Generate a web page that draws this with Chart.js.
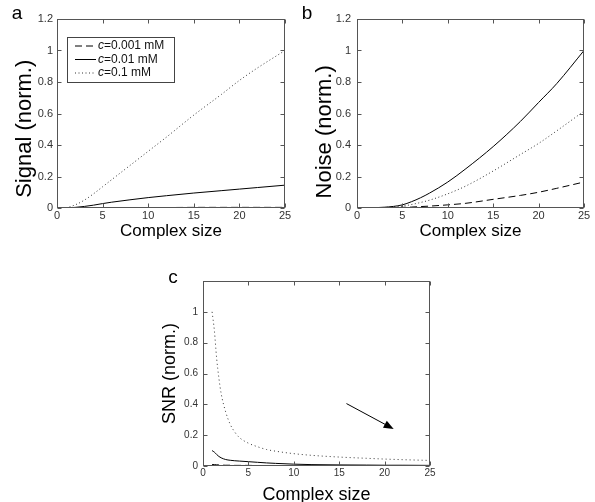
<!DOCTYPE html>
<html>
<head>
<meta charset="utf-8">
<script src="https://cdn.jsdelivr.net/npm/chart.js@4/dist/chart.umd.min.js"></script>
<style>
  body { margin: 0; width: 595px; height: 502px; overflow: hidden; background: #fff; position: relative; }
  canvas { position: absolute; }
</style>
</head>
<body>
<canvas id="chartA" width="295" height="250" style="left:0;top:0"></canvas>
<canvas id="chartB" width="300" height="250" style="left:295px;top:0"></canvas>
<canvas id="chartC" width="320" height="262" style="left:140px;top:250px"></canvas>
<script>
// legend labels (concentration c)
const concLabels = ['=0.001 mM', '=0.01 mM', '=0.1 mM'];
const xTicks = [0, 5, 10, 15, 20, 25];

// panel a: signal
const xA = [1, 2, 3, 4, 5, 6, 8, 10, 12, 15, 18, 20, 22, 25];
const signalLow = [0, 0.001, 0.001, 0.002, 0.002, 0.002, 0.003, 0.003, 0.003, 0.004, 0.004, 0.004, 0.004, 0.004];
const signalMid = [0, 0.004, 0.01, 0.018, 0.028, 0.037, 0.052, 0.066, 0.078, 0.095, 0.11, 0.12, 0.13, 0.145];
const signalHigh = [0, 0.02, 0.05, 0.09, 0.135, 0.18, 0.27, 0.36, 0.45, 0.59, 0.72, 0.81, 0.89, 1.0];

// panel b: noise
const xB = [1, 2, 3, 4, 5, 6, 7, 8, 10, 12, 15, 18, 20, 22, 25];
const noiseLow = [0, 0, 0.001, 0.002, 0.004, 0.006, 0.009, 0.012, 0.02, 0.03, 0.055, 0.08, 0.1, 0.125, 0.165];
const noiseMid = [0, 0.002, 0.005, 0.01, 0.02, 0.04, 0.065, 0.095, 0.165, 0.25, 0.39, 0.55, 0.67, 0.79, 1.0];
const noiseHigh = [0, 0.001, 0.003, 0.006, 0.012, 0.022, 0.035, 0.05, 0.09, 0.14, 0.235, 0.34, 0.41, 0.49, 0.615];

// panel c: SNR
const xC = [1, 1.25, 1.5, 1.75, 2, 2.5, 3, 3.5, 4, 5, 6, 7, 8, 10, 12, 15, 18, 20, 22, 25];
const snrLow = [0.01, 0.009, 0.008, 0.007, 0.006, 0.005, 0.005, 0.004, 0.004, 0.004, 0.003, 0.003, 0.003, 0.003, 0.002, 0.002, 0.002, 0.002, 0.002, 0.002];
const snrMid = [0.1, 0.09, 0.075, 0.062, 0.053, 0.042, 0.037, 0.034, 0.032, 0.028, 0.024, 0.02, 0.017, 0.012, 0.009, 0.007, 0.006, 0.005, 0.005, 0.004];
const snrHigh = [1.0, 0.88, 0.7, 0.57, 0.47, 0.35, 0.27, 0.22, 0.185, 0.148, 0.125, 0.107, 0.096, 0.08, 0.069, 0.058, 0.05, 0.045, 0.041, 0.036];

// arrow in panel c, data coords [start, end]
const snrArrow = [[15.8, 0.405], [21.0, 0.24]];

const FONT = '"Liberation Sans", Arial, sans-serif';
const DASHED = [7, 4];
const DOTTED = [1, 2.5];

function pts(xs, ys) {
  return xs.map((v, i) => ({ x: v, y: ys[i] }));
}

function line(ctx, x1, y1, x2, y2) {
  ctx.beginPath(); ctx.moveTo(x1, y1); ctx.lineTo(x2, y2); ctx.stroke();
}

// matlab style box with inward ticks, panel letter, legend, arrow
const framePlugin = {
  id: 'frame',
  afterDraw(chart, args, opts) {
    const { ctx, chartArea: a, scales: { x, y } } = chart;
    const L = Math.round(a.left) + 0.5, R = Math.round(a.right) - 0.5;
    const T = Math.round(a.top) + 0.5, B = Math.round(a.bottom) - 0.5;
    ctx.save();
    ctx.strokeStyle = '#555';
    ctx.lineWidth = 1;
    ctx.strokeRect(L, T, R - L, B - T);
    x.ticks.forEach(t => {
      const px = Math.round(x.getPixelForValue(t.value)) + 0.5;
      line(ctx, px, T, px, T + 4);
      line(ctx, px, B, px, B - 4);
    });
    y.ticks.forEach(t => {
      const py = Math.round(y.getPixelForValue(t.value)) + 0.5;
      line(ctx, L, py, L + 4, py);
      line(ctx, R, py, R - 4, py);
    });

    ctx.fillStyle = '#000';
    ctx.font = '19px ' + FONT;
    ctx.textAlign = 'center';
    ctx.textBaseline = 'middle';
    ctx.fillText(opts.letter, opts.lx, opts.ly);

    if (opts.legend) {
      const lg = opts.legend;
      ctx.strokeStyle = '#444';
      ctx.strokeRect(lg.x + 0.5, lg.y + 0.5, lg.w, lg.h);
      chart.data.datasets.forEach((ds, i) => {
        const yy = lg.y + 9 + i * 13.5;
        ctx.strokeStyle = ds.borderColor;
        ctx.setLineDash(ds.borderDash || []);
        line(ctx, lg.x + 8, yy, lg.x + 29, yy);
        ctx.setLineDash([]);
        ctx.textAlign = 'left';
        ctx.fillStyle = '#111';
        ctx.font = 'italic 12px ' + FONT;
        ctx.fillText('c', lg.x + 31, yy);
        const w = ctx.measureText('c').width;
        ctx.font = '12px ' + FONT;
        ctx.fillText(concLabels[i], lg.x + 31 + w, yy);
      });
    }

    if (opts.arrow) {
      const [p0, p1] = opts.arrow;
      const x0 = x.getPixelForValue(p0[0]), y0 = y.getPixelForValue(p0[1]);
      const x1 = x.getPixelForValue(p1[0]), y1 = y.getPixelForValue(p1[1]);
      const ang = Math.atan2(y1 - y0, x1 - x0);
      ctx.strokeStyle = '#000';
      line(ctx, x0, y0, x1 - 6 * Math.cos(ang), y1 - 6 * Math.sin(ang));
      ctx.fillStyle = '#000';
      ctx.beginPath();
      ctx.moveTo(x1, y1);
      ctx.lineTo(x1 - 10 * Math.cos(ang) + 4 * Math.sin(ang), y1 - 10 * Math.sin(ang) - 4 * Math.cos(ang));
      ctx.lineTo(x1 - 10 * Math.cos(ang) - 4 * Math.sin(ang), y1 - 10 * Math.sin(ang) + 4 * Math.cos(ang));
      ctx.closePath();
      ctx.fill();
    }
    ctx.restore();
  }
};

function makePanel(id, xs, series, cfg) {
  new Chart(document.getElementById(id), {
    type: 'scatter',
    data: {
      datasets: series.map(s => ({
        data: pts(xs, s.data),
        showLine: true,
        borderColor: s.color,
        borderWidth: 1,
        borderDash: s.dash,
        pointRadius: 0,
        cubicInterpolationMode: 'monotone'
      }))
    },
    options: {
      responsive: false,
      animation: false,
      layout: { padding: { top: cfg.padTop, right: cfg.padRight, left: 0, bottom: 0 } },
      plugins: {
        legend: { display: false },
        tooltip: { enabled: false },
        frame: cfg.frame
      },
      scales: {
        x: {
          type: 'linear',
          min: 0,
          max: 25,
          afterBuildTicks: s => { s.ticks = xTicks.map(v => ({ value: v })); },
          afterFit: s => { s.height = cfg.xHeight; },
          grid: { display: false, drawTicks: false },
          border: { display: false },
          ticks: { color: '#333', font: { family: FONT, size: cfg.tickSize }, padding: 1, maxRotation: 0 },
          title: {
            display: true, text: 'Complex size', color: '#000',
            font: { family: FONT, size: cfg.xTitleSize }, padding: { top: 0, bottom: cfg.xTitlePad }
          }
        },
        y: {
          type: 'linear',
          min: 0,
          max: 1.2,
          afterBuildTicks: s => { s.ticks = cfg.yTicks.map(v => ({ value: v })); },
          afterFit: s => { s.width = cfg.yWidth; },
          grid: { display: false, drawTicks: false },
          border: { display: false },
          ticks: {
            color: '#333', font: { family: FONT, size: cfg.tickSize }, padding: cfg.yTickPad,
            callback: v => String(+v.toFixed(1))
          },
          title: {
            display: true, text: cfg.yTitle, color: '#000',
            font: { family: FONT, size: cfg.yTitleSize }, padding: { top: cfg.yTitlePad, bottom: 0 }
          }
        }
      }
    },
    plugins: [framePlugin]
  });
}

const yFull = [0, 0.2, 0.4, 0.6, 0.8, 1, 1.2];

makePanel('chartA', xA, [
  { data: signalLow, dash: DASHED, color: '#000' },
  { data: signalMid, dash: [], color: '#000' },
  { data: signalHigh, dash: DOTTED, color: '#333' }
], {
  padTop: 19, padRight: 10, xHeight: 42, yWidth: 57, yTicks: yFull,
  tickSize: 11, xTitleSize: 17, xTitlePad: 8, yTitle: 'Signal (norm.)     ', yTitleSize: 22, yTitlePad: 12, yTickPad: 4,
  frame: { letter: 'a', lx: 17, ly: 14, legend: { x: 67, y: 37, w: 107, h: 45 } }
});

makePanel('chartB', xB, [
  { data: noiseLow, dash: DASHED, color: '#000' },
  { data: noiseMid, dash: [], color: '#000' },
  { data: noiseHigh, dash: DOTTED, color: '#333' }
], {
  padTop: 19, padRight: 11, xHeight: 42, yWidth: 62, yTicks: yFull,
  tickSize: 11, xTitleSize: 17, xTitlePad: 8, yTitle: 'Noise (norm.)      ', yTitleSize: 22, yTitlePad: 17, yTickPad: 6,
  frame: { letter: 'b', lx: 12, ly: 14 }
});

makePanel('chartC', xC, [
  { data: snrLow, dash: DASHED, color: '#000' },
  { data: snrMid, dash: [], color: '#000' },
  { data: snrHigh, dash: [1, 3], color: '#333' }
], {
  padTop: 31, padRight: 30, xHeight: 46, yWidth: 63, yTicks: [0, 0.2, 0.4, 0.6, 0.8, 1],
  tickSize: 10, xTitleSize: 18, xTitlePad: 6, yTitle: 'SNR (norm.)', yTitleSize: 18, yTitlePad: 19, yTickPad: 5,
  frame: { letter: 'c', lx: 33, ly: 28, arrow: snrArrow }
});
</script>
</body>
</html>
